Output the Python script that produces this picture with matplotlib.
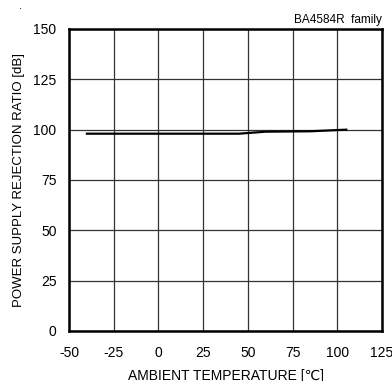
import matplotlib
matplotlib.use('Agg')
import matplotlib.pyplot as plt

plt.rcParams['font.family'] = ['Liberation Sans', 'DejaVu Sans']

temp = [-40, 0, 25, 45, 60, 85, 105]
psrr = [98.0, 98.0, 98.0, 98.0, 99.0, 99.2, 100.0]

x_ticks = [-50, -25, 0, 25, 50, 75, 100, 125]
y_ticks = [0, 25, 50, 75, 100, 125, 150]

fig = plt.figure(figsize=(3.92, 3.81), dpi=100)
ax = fig.add_axes([69/392, 1-331/381, 313/392, 302/381])

ax.plot(temp, psrr, color='black', lw=1.6)

ax.set_xlim(-50, 125)
ax.set_ylim(0, 150)
ax.set_xticks(x_ticks)
ax.set_yticks(y_ticks)
ax.set_xticklabels([str(t) for t in x_ticks], fontsize=10)
ax.set_yticklabels([str(t) for t in y_ticks], fontsize=10)
ax.tick_params(axis='x', length=0, pad=11)
ax.tick_params(axis='y', length=0, pad=9)
ax.grid(True, color='#333333', lw=0.9)
for s in ax.spines.values():
    s.set_linewidth(1.8)
    s.set_color('black')

ax.set_xlabel('AMBIENT TEMPERATURE [℃]', fontsize=10, labelpad=6)
ax.set_ylabel('POWER SUPPLY REJECTION RATIO [dB]', fontsize=9.5, labelpad=6)
ax.text(1.0, 1.01, 'BA4584R  family', transform=ax.transAxes, ha='right', va='bottom', fontsize=8.5)
fig.text(19/392, 1-9/381, '.', fontsize=8)

fig.savefig('out.png', dpi=100)
